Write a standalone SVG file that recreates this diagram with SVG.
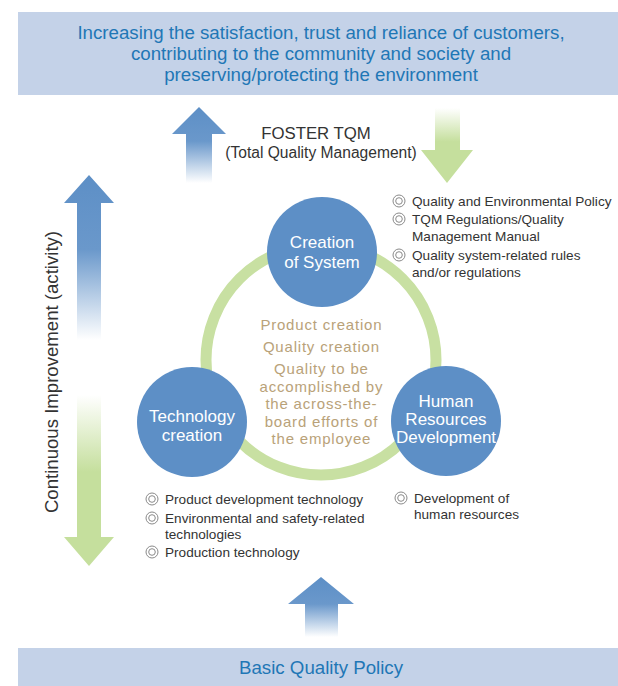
<svg xmlns="http://www.w3.org/2000/svg" width="618" height="686" viewBox="0 0 618 686">
  <defs>
    <style>
      .band { fill: #c4d2e8; }
      .band-text { font-family: "Liberation Sans", Arial, sans-serif; font-size: 18.7px; fill: #1f77b6; text-anchor: middle; }
      .node { fill: #5d8fc6; }
      .node-text { font-family: "Liberation Sans", Arial, sans-serif; font-size: 17px; fill: #ffffff; text-anchor: middle; }
      .core-text { font-family: "Liberation Sans", Arial, sans-serif; font-size: 15px; letter-spacing: 0.8px; fill: #b9a279; text-anchor: middle; }
      .note { font-family: "Liberation Sans", Arial, sans-serif; font-size: 13.6px; fill: #333333; }
      .mark { fill: none; stroke: #8a8a8a; stroke-width: 1; }
      .dark { font-family: "Liberation Sans", Arial, sans-serif; fill: #333333; text-anchor: middle; }
    </style>
    <linearGradient id="blueUp" x1="0" y1="0" x2="0" y2="1">
      <stop offset="0" stop-color="#5d8fc6"/>
      <stop offset="0.45" stop-color="#6a98cb"/>
      <stop offset="1" stop-color="#ffffff"/>
    </linearGradient>
    <linearGradient id="greenDown" x1="0" y1="1" x2="0" y2="0">
      <stop offset="0" stop-color="#c5df9d"/>
      <stop offset="0.55" stop-color="#c5df9d"/>
      <stop offset="1" stop-color="#ffffff"/>
    </linearGradient>
    <g id="bullet">
      <circle class="mark" cx="0" cy="0" r="6"/>
      <circle class="mark" cx="0" cy="0" r="3.3"/>
    </g>
  </defs>

  <rect width="618" height="686" fill="#ffffff"/>

  <!-- top goal band -->
  <g id="goal">
    <rect class="band" x="18" y="12" width="600" height="83"/>
    <text class="band-text" x="321" y="39">Increasing the satisfaction, trust and reliance of customers,</text>
    <text class="band-text" x="321" y="60">contributing to the community and society and</text>
    <text class="band-text" x="321" y="81">preserving/protecting the environment</text>
  </g>

  <!-- bottom policy band -->
  <g id="policy">
    <rect class="band" x="18" y="648" width="600" height="38"/>
    <text class="band-text" x="321" y="674">Basic Quality Policy</text>
  </g>

  <!-- arrows and ring -->
  <g id="connectors">
    <circle cx="321" cy="360" r="115" fill="none" stroke="#c8e0a2" stroke-width="11"/>
    <!-- toward goal -->
    <path d="M199,107 L226,134 L212,134 L212,183 L186,183 L186,134 L172,134 Z" fill="url(#blueUp)"/>
    <!-- from goal -->
    <path d="M435,108 L460,108 L460,150 L473,150 L447,183 L421,150 L435,150 Z" fill="url(#greenDown)"/>
    <!-- continuous improvement -->
    <path d="M89,175 L114,203 L101,203 L101,340 L77,340 L77,203 L64,203 Z" fill="url(#blueUp)"/>
    <path d="M77,395 L101,395 L101,537 L114,537 L89,566 L64,537 L77,537 Z" fill="url(#greenDown)"/>
    <!-- from policy -->
    <path d="M321,577 L354,604 L338,604 L338,637 L305,637 L305,604 L288,604 Z" fill="url(#blueUp)"/>
  </g>

  <g id="tqm-title">
    <text class="dark" x="316" y="139" font-size="16.8">FOSTER TQM</text>
    <text class="dark" x="321" y="158" font-size="15.6">(Total Quality Management)</text>
  </g>

  <g id="improvement-label">
    <text class="dark" transform="translate(58,372) rotate(-90)" font-size="18.6">Continuous Improvement (activity)</text>
  </g>

  <g id="core">
    <text class="core-text" x="321.4" y="330">Product creation</text>
    <text class="core-text" x="321.4" y="352">Quality creation</text>
    <text class="core-text" x="321.4" y="374">Quality to be</text>
    <text class="core-text" x="321.4" y="391.5">accomplished by</text>
    <text class="core-text" x="321.4" y="409">the across-the-</text>
    <text class="core-text" x="321.4" y="426.5">board efforts of</text>
    <text class="core-text" x="321.4" y="444">the employee</text>
  </g>

  <g id="system">
    <circle class="node" cx="322" cy="252" r="55"/>
    <text class="node-text" x="322" y="248">Creation</text>
    <text class="node-text" x="322" y="268">of System</text>
  </g>

  <g id="technology">
    <circle class="node" cx="192" cy="422" r="55"/>
    <text class="node-text" x="192" y="422">Technology</text>
    <text class="node-text" x="192" y="441">creation</text>
  </g>

  <g id="human-resources">
    <circle class="node" cx="446" cy="421" r="55"/>
    <text class="node-text" x="446" y="407">Human</text>
    <text class="node-text" x="446" y="425">Resources</text>
    <text class="node-text" x="446" y="443">Development</text>
  </g>

  <g id="system-notes">
    <use href="#bullet" x="399" y="201"/>
    <text class="note" x="412" y="206">Quality and Environmental Policy</text>
    <use href="#bullet" x="399" y="219"/>
    <text class="note" x="412" y="224">TQM Regulations/Quality</text>
    <text class="note" x="412" y="241">Management Manual</text>
    <use href="#bullet" x="399" y="255"/>
    <text class="note" x="412" y="260">Quality system-related rules</text>
    <text class="note" x="412" y="277">and/or regulations</text>
  </g>

  <g id="technology-notes">
    <use href="#bullet" x="152" y="499"/>
    <text class="note" x="165" y="504">Product development technology</text>
    <use href="#bullet" x="152" y="518"/>
    <text class="note" x="165" y="523">Environmental and safety-related</text>
    <text class="note" x="165" y="539">technologies</text>
    <use href="#bullet" x="152" y="552"/>
    <text class="note" x="165" y="557">Production technology</text>
  </g>

  <g id="human-notes">
    <use href="#bullet" x="401" y="498"/>
    <text class="note" x="414" y="503">Development of</text>
    <text class="note" x="414" y="519">human resources</text>
  </g>
</svg>
